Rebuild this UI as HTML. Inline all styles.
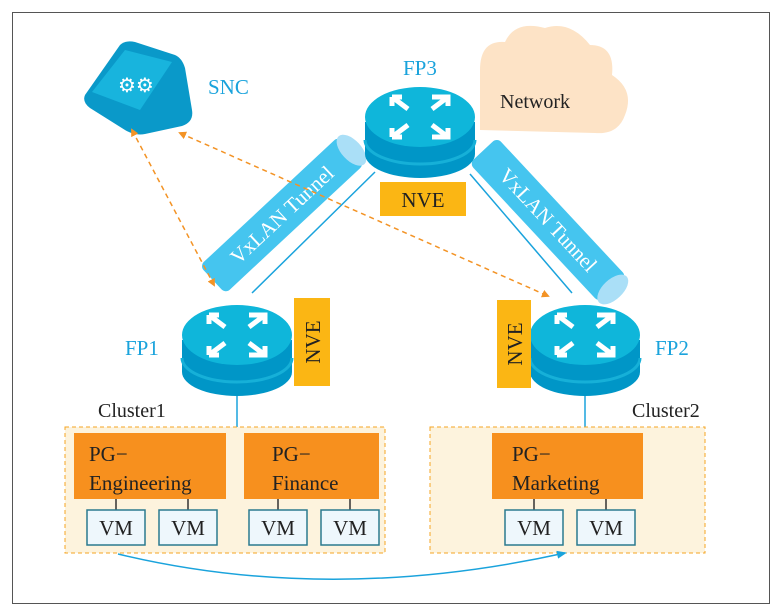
<!DOCTYPE html>
<html><head><meta charset="utf-8"><style>body{margin:0;background:#fff}svg{display:block}text{font-family:"Liberation Serif",serif}</style></head><body>
<svg width="780" height="612" viewBox="0 0 780 612" xmlns="http://www.w3.org/2000/svg">
<defs>
<marker id="oa" markerWidth="8" markerHeight="8" refX="6" refY="4" orient="auto-start-reverse" markerUnits="userSpaceOnUse"><path d="M0,0 L8,4 L0,8z" fill="#f39325"/></marker>
<marker id="ba" markerWidth="10" markerHeight="8" refX="8" refY="4" orient="auto" markerUnits="userSpaceOnUse"><path d="M0,0 L10,4 L0,8z" fill="#1aa3dc"/></marker>
<g id="rt">
<path d="M-55,10 L-55,42 A55,24 0 0 0 55,42 L55,10z" fill="#0096c7"/>
<path d="M-55,28 A55,24 0 0 0 55,28" fill="none" stroke="#16b0d8" stroke-width="3"/>
<ellipse cx="0" cy="5" rx="55" ry="30" fill="#0fb6da"/>
<g stroke="#fff" stroke-width="5" fill="none">
<path d="M-28,-15 L-12,-3 M-28,-15 L-18,-15 M-28,-15 L-28,-6"/>
<path d="M28,-15 L12,-3 M12,-15 L28,-15 L28,-6"/>
<path d="M-28,25 L-12,13 M-28,25 L-18,25 M-28,25 L-28,16"/>
<path d="M28,25 L12,13 M12,25 L28,25 L28,16"/>
</g>
</g>
</defs>
<rect x="12.5" y="12.5" width="757" height="591" fill="#fff" stroke="#555" stroke-width="1"/>
<path d="M480,130 L480,70 Q480,40 505,42 Q515,20 545,28 Q570,20 590,45 Q615,45 612,75 Q635,90 625,115 Q618,135 595,133 Z" fill="#fde3c6"/>
<text x="500" y="108" font-size="20" fill="#222">Network</text>
<path d="M85,95 L120,45 Q125,40 135,42 L175,55 Q182,58 185,68 L192,110 Q194,122 182,126 L145,134 Q135,136 125,130 L90,108 Q82,102 85,95z" fill="#0a99c9"/>
<path d="M92,92 L125,50 L172,62 L140,110z" fill="#18b4dd"/>
<text x="118" y="92" font-size="20" fill="#fff" font-family="DejaVu Sans">⚙⚙</text>
<text x="208" y="94" font-size="21" fill="#1aa3dc">SNC</text>
<g transform="translate(282,215) rotate(-43)"><rect x="-95" y="-19" width="190" height="38" rx="6" fill="#45c5ef"/><ellipse cx="95" cy="0" rx="10" ry="19" fill="#aadff7"/><text x="0" y="7" font-size="21" fill="#fff" text-anchor="middle">VxLAN Tunnel</text></g>
<g transform="translate(548,220) rotate(47)"><rect x="-95" y="-19" width="190" height="38" rx="6" fill="#45c5ef"/><ellipse cx="95" cy="0" rx="10" ry="19" fill="#aadff7"/><text x="0" y="7" font-size="21" fill="#fff" text-anchor="middle">VxLAN Tunnel</text></g>
<line x1="375" y1="172" x2="252" y2="293" stroke="#1aa3dc" stroke-width="1.5"/>
<line x1="470" y1="174" x2="572" y2="293" stroke="#1aa3dc" stroke-width="1.5"/>
<line x1="237" y1="390" x2="237" y2="427" stroke="#1aa3dc" stroke-width="1.5"/>
<line x1="585" y1="390" x2="585" y2="427" stroke="#1aa3dc" stroke-width="1.5"/>
<line x1="132" y1="130" x2="214" y2="285" stroke="#f39325" stroke-width="1.5" stroke-dasharray="5,4" marker-start="url(#oa)" marker-end="url(#oa)"/>
<line x1="180" y1="133" x2="548" y2="296" stroke="#f39325" stroke-width="1.5" stroke-dasharray="5,4" marker-start="url(#oa)" marker-end="url(#oa)"/>
<use href="#rt" x="420" y="112"/>
<use href="#rt" x="237" y="330"/>
<use href="#rt" x="585" y="330"/>
<text x="403" y="75" font-size="21" fill="#1aa3dc">FP3</text>
<text x="125" y="355" font-size="21" fill="#1aa3dc">FP1</text>
<text x="655" y="355" font-size="21" fill="#1aa3dc">FP2</text>
<rect x="380" y="182" width="86" height="34" fill="#fbb614"/><text x="423" y="207" font-size="21" text-anchor="middle" fill="#222">NVE</text>
<rect x="294" y="298" width="36" height="88" fill="#fbb614"/><text transform="translate(320,342) rotate(-90)" font-size="21" text-anchor="middle" fill="#222">NVE</text>
<rect x="497" y="300" width="34" height="88" fill="#fbb614"/><text transform="translate(522,344) rotate(-90)" font-size="21" text-anchor="middle" fill="#222">NVE</text>
<text x="98" y="417" font-size="20" fill="#222">Cluster1</text>
<text x="632" y="417" font-size="20" fill="#222">Cluster2</text>
<rect x="65" y="427" width="320" height="126" fill="#fdf3dd" stroke="#f5a623" stroke-dasharray="4,3"/>
<rect x="430" y="427" width="275" height="126" fill="#fdf3dd" stroke="#f5a623" stroke-dasharray="4,3"/>
<g fill="#f7901e">
<rect x="74" y="433" width="152" height="66"/><rect x="244" y="433" width="135" height="66"/><rect x="492" y="433" width="151" height="66"/>
</g>
<g font-size="21" fill="#222">
<text x="89" y="461">PG−</text><text x="89" y="490">Engineering</text>
<text x="272" y="461">PG−</text><text x="272" y="490">Finance</text>
<text x="512" y="461">PG−</text><text x="512" y="490">Marketing</text>
</g>
<g stroke="#333" stroke-width="1.5">
<line x1="116" y1="499" x2="116" y2="510"/><line x1="188" y1="499" x2="188" y2="510"/>
<line x1="278" y1="499" x2="278" y2="510"/><line x1="350" y1="499" x2="350" y2="510"/>
<line x1="534" y1="499" x2="534" y2="510"/><line x1="606" y1="499" x2="606" y2="510"/>
</g>
<g fill="#eef7fc" stroke="#2b7a8f" stroke-width="1.5">
<rect x="87" y="510" width="58" height="35"/><rect x="159" y="510" width="58" height="35"/>
<rect x="249" y="510" width="58" height="35"/><rect x="321" y="510" width="58" height="35"/>
<rect x="505" y="510" width="58" height="35"/><rect x="577" y="510" width="58" height="35"/>
</g>
<g font-size="21" fill="#222" text-anchor="middle">
<text x="116" y="535">VM</text><text x="188" y="535">VM</text><text x="278" y="535">VM</text><text x="350" y="535">VM</text><text x="534" y="535">VM</text><text x="606" y="535">VM</text>
</g>
<path d="M118,554 Q330,605 565,553" fill="none" stroke="#1aa3dc" stroke-width="1.5" marker-end="url(#ba)"/>
</svg>
</body></html>
